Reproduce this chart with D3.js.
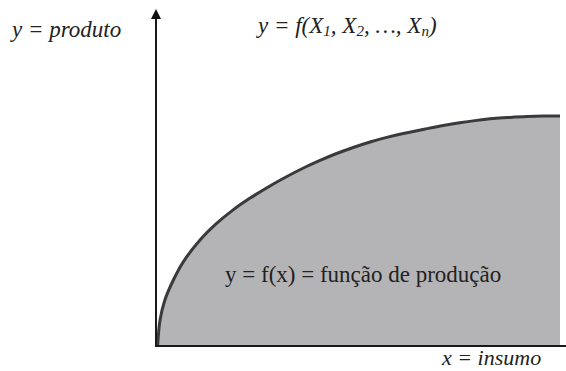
<!DOCTYPE html>
<html>
<head>
<meta charset="utf-8">
<script src="https://cdn.jsdelivr.net/npm/d3@7"></script>
<style>
  body { margin: 0; background: #fff; }
  svg { display: block; }
  text { font-family: "Liberation Serif", "Times New Roman", Times, "DejaVu Serif", serif; }
</style>
</head>
<body>
<div id="chart"></div>
<script>
// curve points of the production function (input -> output)
const insumo  = [0.4, 1.0, 2.2, 4.3, 6.8, 10.9, 15.0, 19.1, 23.3, 28.2, 32.4, 36.5, 40.6, 44.7, 48.8, 53.0, 57.1, 61.2, 67.0, 71.1, 75.2, 79.4, 83.5, 87.6, 91.8, 95.9, 100];
const produto = [0, 11.3, 20.0, 28.7, 36.7, 46.1, 53.3, 59.2, 64.3, 69.6, 73.7, 77.4, 80.7, 83.7, 86.3, 88.7, 90.7, 92.4, 94.5, 95.9, 97.1, 98.1, 98.9, 99.4, 99.8, 100, 100];

const data = insumo.map((x, i) => ({ x: x, y: produto[i] }));

const width = 566, height = 371;
const x0 = 156, x1 = 560, y0 = 346, y1 = 116;

const svg = d3.select("#chart").append("svg")
    .attr("width", width)
    .attr("height", height);

const x = d3.scaleLinear().domain([0, 100]).range([x0, x1]);
const y = d3.scaleLinear().domain([0, 100]).range([y0, y1]);

const curve = d3.curveCatmullRom.alpha(0.5);

// shaded area under curve
svg.append("path")
    .datum(data)
    .attr("fill", "#b4b4b6")
    .attr("d", d3.area()
        .x(d => x(d.x))
        .y0(y(0))
        .y1(d => y(d.y))
        .curve(curve));

// curve
svg.append("path")
    .datum(data)
    .attr("fill", "none")
    .attr("stroke", "#3a3a3c")
    .attr("stroke-width", 3)
    .attr("d", d3.line()
        .x(d => x(d.x))
        .y(d => y(d.y))
        .curve(curve));

// axes
svg.append("line")
    .attr("x1", x0).attr("x2", 566)
    .attr("y1", y0).attr("y2", y0)
    .attr("stroke", "#1a1a1a")
    .attr("stroke-width", 2);

svg.append("line")
    .attr("x1", x0).attr("x2", x0)
    .attr("y1", y0 + 1).attr("y2", 16)
    .attr("stroke", "#1a1a1a")
    .attr("stroke-width", 2);

svg.append("path")
    .attr("d", `M${x0},9 L${x0 - 5},19 L${x0 + 5},19 Z`)
    .attr("fill", "#111");

// labels
svg.append("text")
    .attr("x", 12).attr("y", 37)
    .attr("font-style", "italic")
    .attr("font-size", 23)
    .attr("fill", "#222")
    .text("y = produto");

const title = svg.append("text")
    .attr("x", 258).attr("y", 33)
    .attr("font-style", "italic")
    .attr("font-size", 23)
    .attr("fill", "#222");
title.append("tspan").text("y = f(X");
title.append("tspan").attr("font-size", 15).attr("dy", 3).text("1");
title.append("tspan").attr("dy", -3).text(", X");
title.append("tspan").attr("font-size", 15).attr("dy", 3).text("2");
title.append("tspan").attr("dy", -3).text(", …, X");
title.append("tspan").attr("font-size", 15).attr("dy", 3).text("n");
title.append("tspan").attr("dy", -3).text(")");

svg.append("text")
    .attr("x", 225).attr("y", 282)
    .attr("font-size", 23)
    .attr("fill", "#222")
    .text("y = f(x) = função de produção");

svg.append("text")
    .attr("x", 442).attr("y", 365)
    .attr("font-style", "italic")
    .attr("font-size", 22)
    .attr("fill", "#222")
    .text("x = insumo");
</script>
</body>
</html>
